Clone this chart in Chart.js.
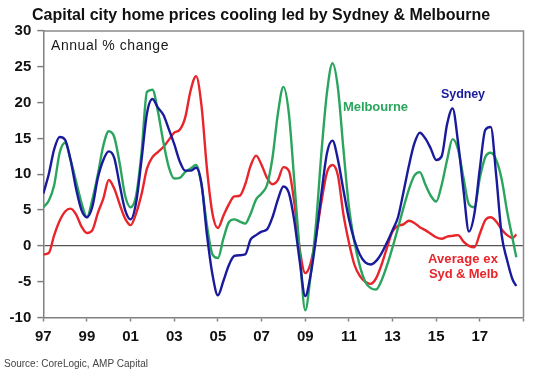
<!DOCTYPE html>
<html>
<head>
<meta charset="utf-8">
<script src="https://cdn.jsdelivr.net/npm/chart.js@4.4.1/dist/chart.umd.min.js"></script>
<style>
html,body{margin:0;padding:0;background:#fff;}
#wrap{position:relative;width:533px;height:373px;}
</style>
</head>
<body>
<div id="wrap"><canvas id="c" width="533" height="373"></canvas></div>
<script>
// Quarterly observations 1997 Q1 .. 2018 Q3, last point mid/late 2018
const quarters = [];
for (let i = 0; i < 87; i++) quarters.push(1997 + i * 0.25);
quarters.push(2018.67);

const sydney = [
  7.3, 10.0, 13.5, 15.2,
  14.8, 12.0, 8.0, 5.0,
  4.0, 5.5, 9.5, 12.0,
  13.2, 12.3, 8.5, 5.0,
  3.7, 6.0, 12.0, 18.5,
  20.5, 19.3, 18.3, 16.3,
  14.2, 11.8, 10.5, 10.5,
  10.9, 8.6, 1.5, -4.0,
  -6.9, -4.9, -2.7, -1.4,
  -1.3, -1.2, 0.9, 1.5,
  2.0, 2.3, 4.0, 6.5,
  8.3, 7.4, 3.5, -2.2,
  -7.0, -4.0, 1.2, 7.5,
  13.0, 14.7, 12.0, 7.8,
  3.8, 0.8, -1.2, -2.3,
  -2.6, -2.1, -1.0, 0.5,
  2.2, 4.0, 7.5, 11.2,
  14.3, 15.8, 15.0, 13.6,
  12.0, 12.5, 17.0, 19.2,
  14.5, 7.8, 2.0, 4.5,
  10.8, 16.2, 16.6, 9.8,
  1.5, -2.0, -4.7, -5.6
];

const melbourne = [
  5.4, 6.3, 8.5, 13.0,
  14.4, 12.0, 9.0, 6.0,
  4.0, 6.5, 10.0, 14.0,
  16.0, 15.2, 11.5, 7.0,
  5.4, 7.0, 13.0, 21.5,
  21.8, 18.8, 14.5, 11.0,
  9.4, 9.5, 10.3, 10.8,
  11.3, 8.5, 2.8, -1.2,
  -1.7, 1.0, 3.3, 3.7,
  3.4, 3.1, 4.5, 6.5,
  7.3, 8.5, 12.3, 18.5,
  22.2, 18.5, 9.0, -1.0,
  -9.0, -4.0, 3.3, 13.3,
  21.5, 25.5, 22.0, 13.5,
  5.5, 0.6, -2.8, -5.0,
  -5.9, -6.1, -4.8, -2.7,
  -0.2, 2.5, 5.3, 7.9,
  9.8, 10.3, 8.6, 7.0,
  6.2, 8.5, 12.0, 14.9,
  13.5, 9.5, 5.8, 5.4,
  9.5, 12.4, 13.0, 12.0,
  9.3, 4.8, 1.0, -1.6
];

const averageExSydMelb = [
  -1.2, -1.0, 1.5, 3.5,
  4.8, 5.2, 4.4, 2.7,
  1.8, 2.2, 4.6, 6.6,
  9.2, 8.0, 5.8, 3.8,
  2.9, 4.5, 7.2, 10.8,
  12.4, 13.1, 13.8, 14.8,
  15.8, 16.2, 17.9, 21.7,
  23.7, 19.5, 10.7, 4.5,
  2.5, 4.2, 5.8, 6.9,
  7.0, 8.6, 11.2, 12.6,
  11.3, 9.5, 8.6, 9.2,
  11.0, 10.5, 6.0, -0.5,
  -3.8, -2.4, 1.5, 6.3,
  10.3, 11.3, 9.8, 4.4,
  0.5, -2.6, -4.2, -5.0,
  -5.3, -4.5, -2.6, -0.2,
  2.0, 2.8, 3.0, 3.5,
  3.2, 2.6, 2.2, 1.7,
  1.2, 1.0, 1.3, 1.4,
  1.5, 0.6, 0.0, -0.2,
  1.7, 3.6, 4.0, 3.4,
  2.3, 1.5, 1.1, 1.6
];

const yTicks = [-10, -5, 0, 5, 10, 15, 20, 25, 30];
const xTickYears = [1997, 1999, 2001, 2003, 2005, 2007, 2009, 2011, 2013, 2015, 2017, 2019];
const xTickLabels = ['97', '99', '01', '03', '05', '07', '09', '11', '13', '15', '17', ''];

const titleText = 'Capital city home prices cooling led by Sydney & Melbourne';
const unitText = 'Annual % change';
const sourceText = 'Source: CoreLogic, AMP Capital';

const COL_SYD = '#1a1a9c';
const COL_MEL = '#2ba55e';
const COL_AVG = '#e8252b';

function pts(vals) { return vals.map((v, i) => ({ x: quarters[i], y: v })); }

function fitText(ctx, text, x, y, width, font, color) {
  ctx.save();
  ctx.font = font;
  ctx.fillStyle = color;
  ctx.textBaseline = 'middle';
  ctx.textAlign = 'left';
  ctx.letterSpacing = '0px';
  const w = ctx.measureText(text).width;
  const n = text.length;
  if (n > 1 && width) {
    const ls = (width - w) / n;
    ctx.letterSpacing = ls.toFixed(2) + 'px';
  }
  ctx.fillText(text, x, y);
  ctx.restore();
}

const textPlugin = {
  id: 'texts',
  afterDraw(chart) {
    const ctx = chart.ctx;
    const a = chart.chartArea;
    // frame (top and right)
    ctx.save();
    ctx.strokeStyle = '#8a8a8a';
    ctx.lineWidth = 1.5;
    ctx.beginPath();
    ctx.moveTo(a.left, a.top);
    ctx.lineTo(a.right, a.top);
    ctx.lineTo(a.right, a.bottom);
    ctx.stroke();
    ctx.restore();

    fitText(ctx, titleText, 32, 15.5, 458, 'bold 16px "Liberation Sans", Arial, sans-serif', '#111');
    fitText(ctx, unitText, 51, 46.5, 118, '14px "Liberation Sans", Arial, sans-serif', '#1a1a1a');
    fitText(ctx, 'Melbourne', 343, 107, 65, 'bold 13px "Liberation Sans", Arial, sans-serif', COL_MEL);
    fitText(ctx, 'Sydney', 441, 95, 44, 'bold 12.5px "Liberation Sans", Arial, sans-serif', COL_SYD);
    fitText(ctx, 'Average ex', 428, 259, 70, 'bold 13px "Liberation Sans", Arial, sans-serif', COL_AVG);
    fitText(ctx, 'Syd & Melb', 429, 274.5, 69, 'bold 13px "Liberation Sans", Arial, sans-serif', COL_AVG);
    fitText(ctx, sourceText, 4, 364, 144, '10px "Liberation Sans", Arial, sans-serif', '#444');
  }
};

new Chart(document.getElementById('c'), {
  type: 'line',
  data: {
    datasets: [
      { label: 'Sydney', data: pts(sydney), borderColor: COL_SYD },
      { label: 'Melbourne', data: pts(melbourne), borderColor: COL_MEL },
      { label: 'Average ex Syd & Melb', data: pts(averageExSydMelb), borderColor: COL_AVG }
    ].map(d => Object.assign(d, {
      borderWidth: 2.4,
      pointRadius: 0,
      fill: false,
      cubicInterpolationMode: 'monotone'
    }))
  },
  options: {
    responsive: false,
    animation: false,
    devicePixelRatio: 1,
    layout: { padding: { top: 31, right: 9.5, left: 0, bottom: 0 } },
    plugins: { legend: { display: false }, tooltip: { enabled: false }, title: { display: false } },
    scales: {
      x: {
        type: 'linear',
        min: 1997,
        max: 2019,
        afterBuildTicks(scale) { scale.ticks = xTickYears.map(v => ({ value: v })); },
        afterFit(scale) { scale.height = 55.5; },
        ticks: {
          autoSkip: false,
          maxRotation: 0,
          padding: 6,
          color: '#111',
          font: { family: '"Liberation Sans", Arial, sans-serif', size: 15, weight: 'bold' },
          callback: (v) => { const i = xTickYears.indexOf(v); return i >= 0 ? xTickLabels[i] : ''; }
        },
        grid: { drawOnChartArea: false, tickLength: 4, tickColor: '#808080', tickWidth: 1.5 },
        border: { color: '#808080', width: 1.5 }
      },
      y: {
        min: -10,
        max: 30,
        afterBuildTicks(scale) { scale.ticks = yTicks.map(v => ({ value: v })); },
        afterFit(scale) { scale.width = 43.3; },
        ticks: {
          padding: 6,
          color: '#111',
          font: { family: '"Liberation Sans", Arial, sans-serif', size: 15, weight: 'bold' }
        },
        grid: {
          drawOnChartArea: true,
          tickLength: 6,
          tickColor: '#808080',
          tickWidth: 1.5,
          lineWidth: 1.2,
          color: (c) => (c.tick && c.tick.value === 0) ? '#555' : 'rgba(0,0,0,0)'
        },
        border: { color: '#808080', width: 1.5 }
      }
    }
  },
  plugins: [textPlugin]
});
</script>
</body>
</html>
